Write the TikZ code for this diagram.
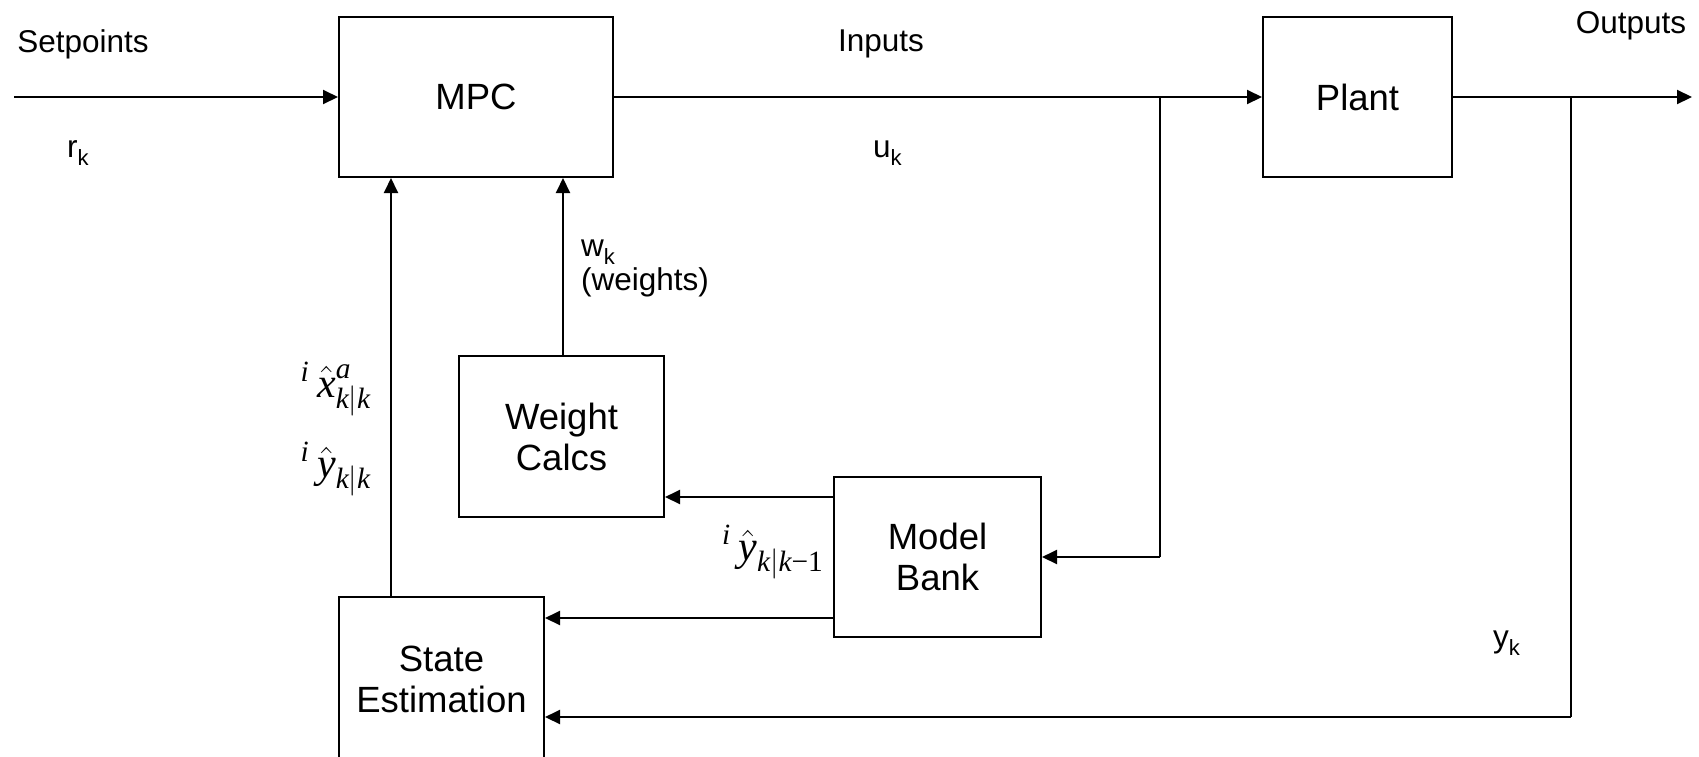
\documentclass[tikz,border=0pt]{standalone}
\usepackage{fontspec}
\usepackage{amsmath}
\setmainfont{Liberation Sans}
\newfontfamily\tmsfont{Liberation Serif}
\usetikzlibrary{arrows.meta}
\newcommand\bxfont{\fontsize{36.5}{41}\selectfont}
\newcommand\lbfont{\fontsize{31.5}{34}\selectfont}
\newcommand\mtfont{\fontsize{20}{24}\selectfont}
\newcommand\tv[1]{\text{\tmsfont\itshape #1}}
\newcommand\bigmath[1]{\scalebox{2.1}{$#1$}}
\begin{document}
\begin{tikzpicture}[x=1pt,y=-1pt,
  blk/.style={draw, line width=2pt, align=center, font=\bxfont, inner sep=0pt},
  lbl/.style={font=\lbfont, inner sep=0pt},
  mlbl/.style={font=\mtfont, inner sep=0pt},
  arr/.style={-{Triangle[length=15pt,width=14pt]}, line width=2pt},
  wire/.style={line width=2pt}]
\path[use as bounding box] (0,0) rectangle (1699,756);
\clip (0,0) rectangle (1699,756);
% blocks
\node[blk, minimum width=274pt, minimum height=160pt] (mpc) at (476,97) {MPC};
\node[blk, minimum width=189pt, minimum height=160pt] (plant) at (1357.5,97) {Plant};
\node[blk, minimum width=205pt, minimum height=161pt] (wc) at (561.5,436.5) {Weight\\Calcs};
\node[blk, minimum width=207pt, minimum height=160pt] (mb) at (937.5,557) {Model\\Bank};
\node[blk, minimum width=205pt, minimum height=164pt] (se) at (441.5,679) {State\\Estimation};
% coordinates
\coordinate (sp) at (14,97);
\coordinate (ubr) at (1160,97);
\coordinate (ybr) at (1571,97);
\coordinate (out) at (1692,97);
% connectors
\draw[arr] (sp) -- (mpc.west);
\draw[arr] (mpc.east) -- (plant.west);
\draw[wire] (ubr) -- (ubr |- mb.east);
\draw[arr] (ubr |- mb.east) -- (mb.east);
\draw[arr] (plant.east) -- (out);
\draw[wire] (ybr) -- (1571,717);
\draw[arr] (1571,717) -- (se.east |- 0,717);
\draw[arr] (mb.west |- 0,497) -- (wc.east |- 0,497);
\draw[arr] (mb.west |- 0,618) -- (se.east |- 0,618);
\draw[arr] (se.north -| 391,0) -- (mpc.south -| 391,0);
\draw[arr] (wc.north -| 563,0) -- (mpc.south -| 563,0);
% labels
\node[lbl] (lsp) at (83,44) {Setpoints};
\node[lbl, anchor=west] (lrk) at (67,153) {r\textsubscript{k}};
\node[lbl] (lin) at (881,44) {Inputs};
\node[lbl, anchor=west] (luk) at (873,153) {u\textsubscript{k}};
\node[lbl] (lout) at (1631,26) {Outputs};
\node[lbl, anchor=west] (lyk) at (1493,643) {y\textsubscript{k}};
\node[lbl, anchor=north west, align=left] (lwk) at (581,240) {w\textsubscript{k}\\(weights)};
\node[mlbl] (lxh) at (336,389) {\bigmath{{}^{\tv{i}}\,\hat{\tv{x}}^{\tv{a}}_{\tv{k}|\tv{k}}}};
\node[mlbl] (lyh) at (336,469) {\bigmath{{}^{\tv{i}}\,\hat{\tv{y}}_{\tv{k}|\tv{k}}}};
\node[mlbl] (lyh1) at (773,552) {\bigmath{{}^{\tv{i}}\,\hat{\tv{y}}_{\tv{k}|\tv{k}\text{\tmsfont\textminus}\text{\tmsfont 1}}}};
\end{tikzpicture}
\end{document}
